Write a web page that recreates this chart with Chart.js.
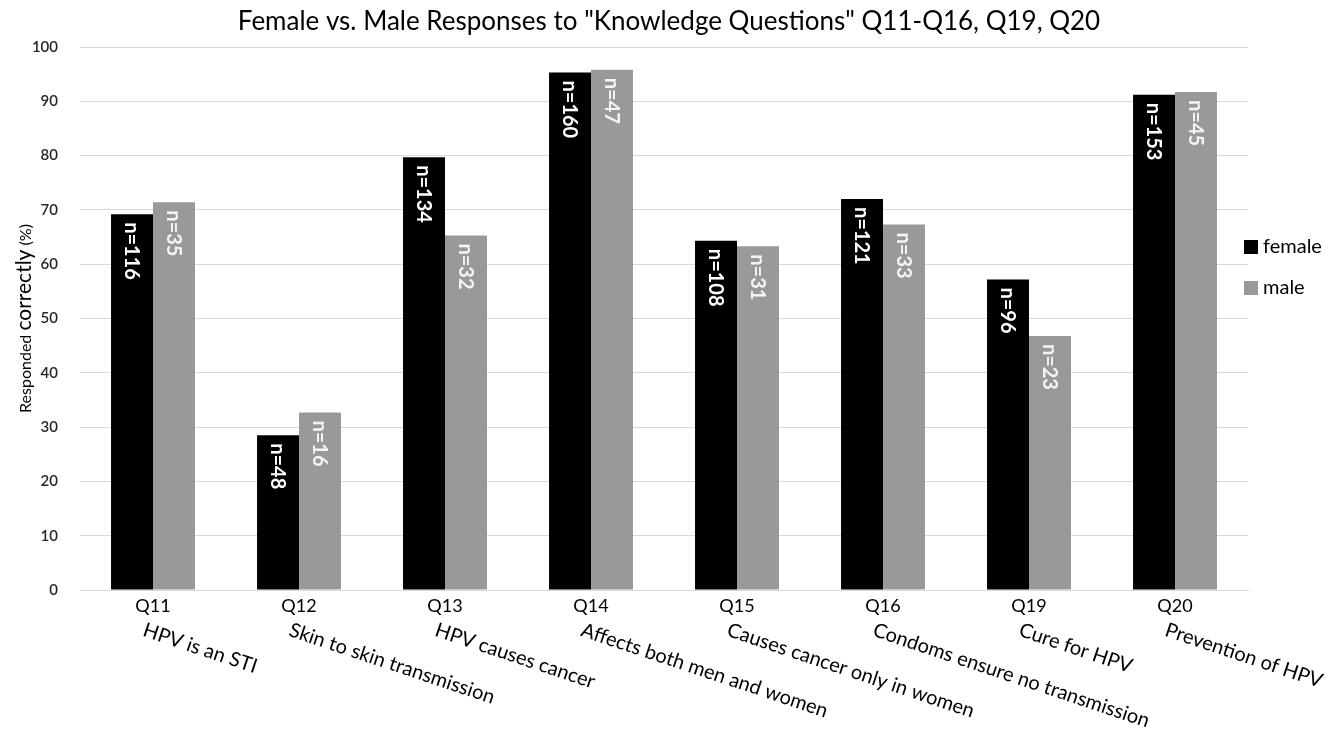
<!DOCTYPE html>
<html>
<head>
    <title>Knowledge Questions</title>
    <script src="https://cdn.jsdelivr.net/npm/chart.js"></script>
    <style>
        body {
            margin: 0;
            background-color: #ffffff;
        }
        #wrap {
            width: 1338px;
            height: 729px;
        }
    </style>
</head>
<body>
    <div id="wrap">
        <canvas id="chart" width="1338" height="729"></canvas>
    </div>
    <script>
        const chartTitle = 'Female vs. Male Responses to "Knowledge Questions" Q11-Q16, Q19, Q20';
        const questions = ['Q11', 'Q12', 'Q13', 'Q14', 'Q15', 'Q16', 'Q19', 'Q20'];
        const descriptions = [
            'HPV is an STI',
            'Skin to skin transmission',
            'HPV causes cancer',
            'Affects both men and women',
            'Causes cancer only in women',
            'Condoms ensure no transmission',
            'Cure for HPV',
            'Prevention of HPV'
        ];
        const femalePct = [69.2, 28.5, 79.7, 95.3, 64.3, 72.0, 57.2, 91.2];
        const malePct = [71.4, 32.7, 65.3, 95.8, 63.3, 67.3, 46.8, 91.7];
        const femaleN = [116, 48, 134, 160, 108, 121, 96, 153];
        const maleN = [35, 16, 32, 47, 31, 33, 23, 45];
        const yTicks = [0, 10, 20, 30, 40, 50, 60, 70, 80, 90, 100];

        const FONT = 'Lato, "Noto Sans", sans-serif';

        // n= labels written downwards inside the top of each bar
        const barLabels = {
            id: 'barLabels',
            afterDatasetsDraw(chart) {
                const ctx = chart.ctx;
                const counts = [femaleN, maleN];
                chart.data.datasets.forEach((ds, di) => {
                    const meta = chart.getDatasetMeta(di);
                    meta.data.forEach((bar, i) => {
                        ctx.save();
                        ctx.translate(bar.x, bar.y + 8);
                        ctx.rotate(Math.PI / 2);
                        ctx.fillStyle = di === 0 ? '#ffffff' : '#f4f4f4';
                        ctx.font = 'bold 20px ' + FONT;
                        ctx.textAlign = 'left';
                        ctx.textBaseline = 'middle';
                        ctx.fillText('n=' + counts[di][i], 0, 1);
                        ctx.restore();
                    });
                });
            }
        };

        // title, slanted question descriptions, y axis title, legend
        const extras = {
            id: 'extras',
            afterDraw(chart) {
                const ctx = chart.ctx;
                const xs = chart.scales.x;
                const area = chart.chartArea;

                // title centred on the whole picture
                ctx.save();
                ctx.fillStyle = '#000000';
                ctx.font = '26px ' + FONT;
                ctx.textAlign = 'center';
                ctx.textBaseline = 'alphabetic';
                ctx.fillText(chartTitle, chart.width / 2, 30);
                ctx.restore();

                ctx.save();
                ctx.fillStyle = '#000000';
                ctx.font = '20px ' + FONT;
                ctx.textAlign = 'left';
                ctx.textBaseline = 'top';
                descriptions.forEach((d, i) => {
                    const x = xs.getPixelForValue(i) - 6;
                    ctx.save();
                    ctx.translate(x, area.bottom + 30);
                    ctx.rotate(18.5 * Math.PI / 180);
                    ctx.fillText(d, 0, 0);
                    ctx.restore();
                });
                ctx.restore();

                // y axis title, "correctly" larger as in the original
                const parts = [['Responded ', 16], ['correctly', 21], [' (%)', 16]];
                ctx.save();
                ctx.fillStyle = '#000000';
                ctx.textBaseline = 'alphabetic';
                ctx.textAlign = 'left';
                let total = 0;
                parts.forEach(p => {
                    ctx.font = p[1] + 'px ' + FONT;
                    total += ctx.measureText(p[0]).width;
                });
                const cy = (area.top + area.bottom) / 2;
                ctx.translate(31, cy + total / 2);
                ctx.rotate(-Math.PI / 2);
                let off = 0;
                parts.forEach(p => {
                    ctx.font = p[1] + 'px ' + FONT;
                    ctx.fillText(p[0], off, 0);
                    off += ctx.measureText(p[0]).width;
                });
                ctx.restore();

                // legend
                const items = [['female', '#000000'], ['male', '#999999']];
                ctx.save();
                ctx.font = '20px ' + FONT;
                ctx.textBaseline = 'middle';
                items.forEach((it, i) => {
                    const y = 247 + i * 41;
                    ctx.fillStyle = it[1];
                    ctx.fillRect(area.right - 4, y - 7, 14, 14);
                    ctx.fillStyle = '#000000';
                    ctx.fillText(it[0], area.right + 15, y);
                });
                ctx.restore();
            }
        };

        new Chart(document.getElementById('chart'), {
            type: 'bar',
            data: {
                labels: questions,
                datasets: [
                    {
                        label: 'female',
                        data: femalePct,
                        backgroundColor: '#000000'
                    },
                    {
                        label: 'male',
                        data: malePct,
                        backgroundColor: '#999999'
                    }
                ]
            },
            options: {
                responsive: false,
                animation: false,
                layout: {
                    padding: { left: 0, right: 90, top: 47, bottom: 0 }
                },
                datasets: {
                    bar: {
                        categoryPercentage: 0.575,
                        barPercentage: 1.0
                    }
                },
                plugins: {
                    legend: { display: false },
                    tooltip: { enabled: false },
                    title: { display: false }
                },
                scales: {
                    x: {
                        grid: { display: false, drawTicks: false },
                        border: { display: true, color: '#d9d9d9', width: 1 },
                        ticks: {
                            color: '#000000',
                            padding: 5,
                            maxRotation: 0,
                            font: { family: FONT, size: 18 }
                        },
                        afterFit: scale => { scale.height = 139; }
                    },
                    y: {
                        min: 0,
                        max: 100,
                        afterBuildTicks: scale => {
                            scale.ticks = yTicks.map(v => ({ value: v }));
                        },
                        grid: { color: '#d9d9d9', drawTicks: false },
                        border: { display: false },
                        ticks: {
                            color: '#262626',
                            padding: 22,
                            font: { family: FONT, size: 15, weight: '600' }
                        },
                        afterFit: scale => { scale.width = 80; }
                    }
                }
            },
            plugins: [barLabels, extras]
        });
    </script>
</body>
</html>
